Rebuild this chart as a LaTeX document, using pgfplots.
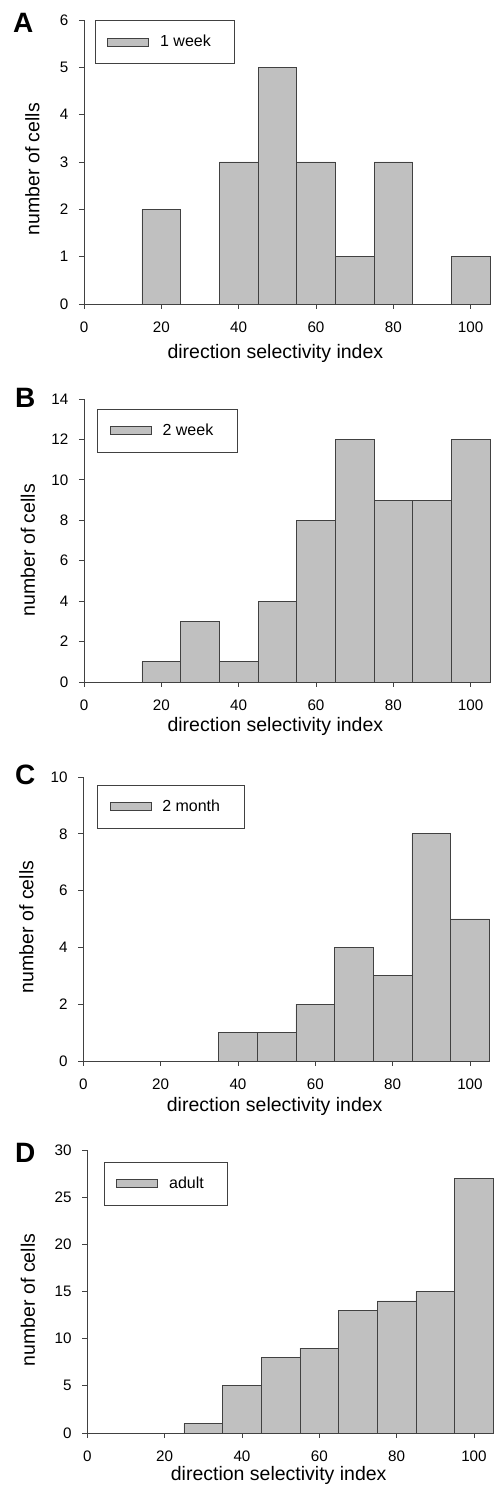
\documentclass[border=0pt]{standalone}
\usepackage{fontspec}
\setmainfont{Liberation Sans}
\usepackage{pgfplots}
\pgfplotsset{compat=1.18}
\definecolor{barfill}{RGB}{192,192,192}
\definecolor{bardraw}{RGB}{65,65,65}
\newcommand{\tfont}{\fontsize{15.2}{18}\selectfont}
\newcommand{\lfont}{\fontsize{16}{19}\selectfont}
\newcommand{\lent}[1]{\lfont\kern11pt #1\kern12pt\mbox{}}
\tikzset{
 bars/.style={fill=barfill, draw=bardraw, line width=0.8pt},
 letter/.style={anchor=north west, inner sep=0pt, font=\bfseries\fontsize{28}{30}\selectfont},
}
\pgfplotsset{
 panel/.style={
  scale only axis, width=406pt,
  xmin=0, xmax=105, ymin=0,
  axis lines=left, axis line style={-, draw=bardraw, line width=0.8pt},
  tick align=outside, major tick length=5pt,
  tick style={draw=bardraw, line width=0.8pt},
  xtick={0,20,...,100},
  /pgf/number format/assume math mode=true,
  xticklabel={\tfont\pgfmathprintnumber{\tick}},
  yticklabel={\tfont\pgfmathprintnumber{\tick}},
  xticklabel style={anchor=north, inner sep=0pt, yshift=-12.5pt},
  yticklabel style={anchor=east, inner sep=0pt, xshift=-10.5pt},
  label style={font=\fontsize{19.5}{23}\selectfont},
  xlabel={direction selectivity index},
  ylabel={number of cells},
  ybar, bar width=10,
  legend image code/.code={\draw[fill=barfill, draw=bardraw, line width=0.8pt] (0pt,-4pt) rectangle (41pt,4pt);},
  legend style={anchor=north west, draw=bardraw, line width=0.8pt, fill=white,
    inner xsep=12pt, inner ysep=15pt, column sep=0pt,
    nodes={inner sep=0pt}},
  clip=false,
 },
}
\begin{document}
\begin{tikzpicture}
\useasboundingbox (0,0) rectangle (498pt,1492pt);
% Panel A
\begin{axis}[panel, at={(84pt,1188pt)}, height=284pt, ymax=6, ytick={0,1,...,6},
  xlabel style={at={(axis description cs:0.4714,0)}, anchor=base, yshift=-55pt},
  ylabel style={at={(axis description cs:-0.110,0.475)}, anchor=base},
  legend style={at={(axis description cs:0.027,1)}}]
\addplot[bars] coordinates {(20,2) (40,3) (50,5) (60,3) (70,1) (80,3) (100,1)};
\addlegendentry{\lent{1 week}}
\node[letter] at ([shift={(-71pt,291pt)}]axis description cs:0,0) {A};
\end{axis}
% Panel B
\begin{axis}[panel, at={(84pt,810pt)}, height=283pt, ymax=14, ytick={0,2,...,14},
  xlabel style={at={(axis description cs:0.4714,0)}, anchor=base, yshift=-50pt},
  ylabel style={at={(axis description cs:-0.1207,0.466)}, anchor=base},
  legend style={at={(axis description cs:0.033,0.965)}}]
\addplot[bars] coordinates {(20,1) (30,3) (40,1) (50,4) (60,8) (70,12) (80,9) (90,9) (100,12)};
\addlegendentry{\lent{2 week}}
\node[letter] at ([shift={(-69pt,293.7pt)}]axis description cs:0,0) {B};
\end{axis}
% Panel C
\begin{axis}[panel, at={(83.3pt,431pt)}, height=284pt, ymax=10, ytick={0,2,...,10},
  xlabel style={at={(axis description cs:0.4714,0)}, anchor=base, yshift=-51pt},
  ylabel style={at={(axis description cs:-0.123,0.472)}, anchor=base},
  legend style={at={(axis description cs:0.034,0.972)}}]
\addplot[bars] coordinates {(40,1) (50,1) (60,2) (70,4) (80,3) (90,8) (100,5)};
\addlegendentry{\lent{2 month}}
\node[letter] at ([shift={(-68.3pt,296pt)}]axis description cs:0,0) {C};
\end{axis}
% Panel D
\begin{axis}[panel, at={(87.3pt,59pt)}, height=283pt, ymax=30, ytick={0,5,...,30},
  xlabel style={at={(axis description cs:0.4714,0)}, anchor=base, yshift=-48pt},
  ylabel style={at={(axis description cs:-0.129,0.47)}, anchor=base},
  legend style={at={(axis description cs:0.041,0.958)}}]
\addplot[bars] coordinates {(30,1) (40,5) (50,8) (60,9) (70,13) (80,14) (90,15) (100,27)};
\addlegendentry{\lent{adult}}
\node[letter] at ([shift={(-72.3pt,290pt)}]axis description cs:0,0) {D};
\end{axis}
\end{tikzpicture}
\end{document}
